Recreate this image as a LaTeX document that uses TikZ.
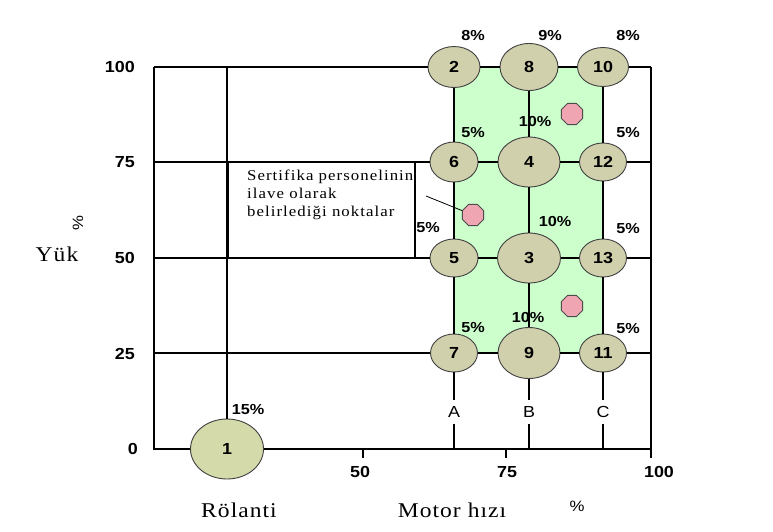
\documentclass[tikz,border=0pt]{standalone}
\usepackage{fontspec}
\setmainfont{Liberation Serif}
\newfontfamily\arialw[FakeStretch=1.12]{Liberation Sans}
\newfontfamily\timesw[FakeStretch=1.12,LetterSpace=5]{Liberation Serif}
\newfontfamily\notew[FakeStretch=1.12,LetterSpace=7]{Liberation Serif}
\usetikzlibrary{positioning,shapes.geometric}
\definecolor{opfill}{RGB}{208,208,172}
\definecolor{idlefill}{RGB}{212,218,170}
\definecolor{zonegreen}{RGB}{204,255,204}
\definecolor{extrapink}{RGB}{240,166,178}

\begin{document}
\begin{tikzpicture}[x=1pt,y=-1pt,
  modept/.style={draw=black!75, line width=0.9pt, fill=opfill, ellipse, inner sep=0pt,
    font=\arialw\bfseries\fontsize{16}{16}\selectfont},
  pct/.style={font=\arialw\bfseries\fontsize{14.5}{14.5}\selectfont, inner sep=0pt},
  numlab/.style={font=\arialw\bfseries\fontsize{16}{16}\selectfont, inner sep=0pt},
  colname/.style={font=\arialw\fontsize{16}{16}\selectfont, inner sep=6pt},
  gridline/.style={line width=1.4pt},
  axisline/.style={line width=2.8pt},
  extrapt/.style={draw=black!70, line width=0.8pt, fill=extrapink, regular polygon,
    regular polygon sides=8, minimum size=23pt, inner sep=0pt},
  axlabel/.style={font=\timesw\fontsize{21}{21}\selectfont, inner sep=0pt},
  unitlab/.style={font=\arialw\fontsize{15}{15}\selectfont, inner sep=0pt}]
  \useasboundingbox (0,0) rectangle (773,531);

  % test zone
  \fill[zonegreen] (454,67) rectangle (603,353);

  % frame points
  \coordinate (L100) at (154,67);
  \coordinate (L75) at (154,162);
  \coordinate (L50) at (154,258);
  \coordinate (L25) at (154,353);
  \coordinate (O) at (154,449);
  \coordinate (R100) at (651,67);
  \coordinate (R75) at (651,162);
  \coordinate (R50) at (651,258);
  \coordinate (R25) at (651,353);
  \coordinate (R0) at (651,449);
  \coordinate (I100) at (227,67);
  \coordinate (A0) at (454,449);
  \coordinate (B0) at (529,449);
  \coordinate (C0) at (603,449);
  \coordinate (t50) at (363,449);
  \coordinate (t75) at (506,449);

  % test modes
  \node[modept, minimum width=73pt, minimum height=60pt, fill=idlefill] (m1) at (227,449) {1};
  \node[modept, minimum width=52pt, minimum height=41pt] (m2) at (454,67) {2};
  \node[modept, minimum width=58pt, minimum height=47pt] (m8) at (529,67) {8};
  \node[modept, minimum width=51pt, minimum height=39pt] (m10) at (603,67) {10};
  \node[modept, minimum width=48pt, minimum height=40pt] (m6) at (454,162) {6};
  \node[modept, minimum width=62pt, minimum height=50pt] (m4) at (529,162) {4};
  \node[modept, minimum width=47pt, minimum height=38pt] (m12) at (603,162) {12};
  \node[modept, minimum width=48pt, minimum height=38pt] (m5) at (454,258) {5};
  \node[modept, minimum width=63pt, minimum height=50pt] (m3) at (529,258) {3};
  \node[modept, minimum width=47pt, minimum height=38pt] (m13) at (603,258) {13};
  \node[modept, minimum width=47pt, minimum height=38pt] (m7) at (454,353) {7};
  \node[modept, minimum width=62pt, minimum height=51pt] (m9) at (529,353) {9};
  \node[modept, minimum width=47pt, minimum height=38pt] (m11) at (603,353) {11};

  % speed columns
  \node[colname] (colA) at (454,412) {A};
  \node[colname] (colB) at (529,412) {B};
  \node[colname] (colC) at (603,412) {C};

  % load rows
  \draw[gridline] (L100) -- (m2) -- (m8) -- (m10) -- (R100);
  \draw[gridline] (L75) -- (m6) -- (m4) -- (m12) -- (R75);
  \draw[gridline] (L50) -- (m5) -- (m3) -- (m13) -- (R50);
  \draw[gridline] (L25) -- (m7) -- (m9) -- (m11) -- (R25);
  \draw[gridline] (m2) -- (m6) -- (m5) -- (m7) -- (colA) -- (A0);
  \draw[gridline] (m8) -- (m4) -- (m3) -- (m9) -- (colB) -- (B0);
  \draw[gridline] (m10) -- (m12) -- (m13) -- (m11) -- (colC) -- (C0);
  \draw[gridline] (I100) -- (m1);
  \draw[gridline] (R100) -- (R0) -- ++(0,9);
  \draw[gridline] (t50) -- ++(0,9);
  \draw[gridline] (t75) -- ++(0,9);
  \draw[axisline] (L100) -- (O) -- (m1) -- (R0);

  % note box
  \node[draw, line width=1.4pt, minimum width=187pt, minimum height=96pt, inner sep=0pt] (box) at (321.5,210) {};
  \draw[line width=2.2pt] (box.north west) -- (box.south west);
  \node[anchor=north west, align=left, inner sep=0pt, font=\notew\fontsize{15}{18}\selectfont] (note) at (247,170)
    {Sertifika personelinin\\ilave olarak\\belirlediği noktalar};

  % extra points
  \node[extrapt] (x1) at (572,114) {};
  \node[extrapt] (x2) at (473,215) {};
  \node[extrapt] (x3) at (572,306) {};
  \coordinate (ptr) at (426,196);
  \draw[line width=0.8pt] (ptr) -- (x2);

  % weights
  \node[pct] (w2) at (473,36) {8\%};
  \node[pct] (w8) at (550,36) {9\%};
  \node[pct] (w10) at (628,36) {8\%};
  \node[pct] (w6) at (473,133) {5\%};
  \node[pct] (w4) at (535,122) {10\%};
  \node[pct] (w12) at (628,133) {5\%};
  \node[pct] (w5) at (428,228) {5\%};
  \node[pct] (w3) at (555,222) {10\%};
  \node[pct] (w13) at (628,229) {5\%};
  \node[pct] (w7) at (473,328) {5\%};
  \node[pct] (w9) at (528,317) {10\%};
  \node[pct] (w11) at (628,329) {5\%};
  \node[pct] (w1) at (248,410) {15\%};

  % scales
  \node[numlab, anchor=east] (y100) at (135,67) {100};
  \node[numlab, anchor=east] (y75) at (135,162) {75};
  \node[numlab, anchor=east] (y50) at (135,258) {50};
  \node[numlab, anchor=east] (y25) at (135,354) {25};
  \node[numlab, anchor=east] (y0) at (138,449) {0};
  \node[numlab] (x50) at (360,472) {50};
  \node[numlab] (x75) at (507,472) {75};
  \node[numlab] (x100) at (659,472) {100};

  % axis titles
  \node[axlabel] (yuk) at (57,254) {Yük};
  \node[unitlab, rotate=90] (ypct) at (78,223) {\%};
  \node[axlabel] (idle) at (239,510) {Rölanti};
  \node[axlabel] (speed) at (452,510) {Motor hızı};
  \node[unitlab] (xpct) at (577,506) {\%};
\end{tikzpicture}
\end{document}
